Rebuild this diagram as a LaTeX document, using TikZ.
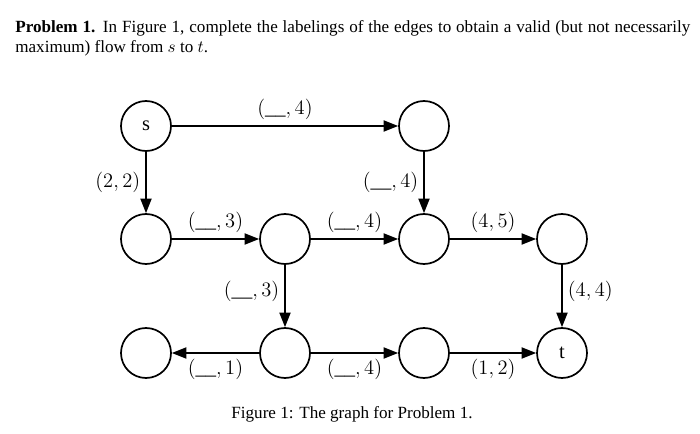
\documentclass[tikz,border=0pt]{standalone}
\usepackage{fontspec}
\setmainfont{Liberation Serif}
\usetikzlibrary{arrows.meta}
\tikzset{
	vertex/.style={circle, draw, line width=1pt, minimum size=29.25pt, inner sep=0pt, font=\large},
	flow/.style={line width=0.9pt, -{Triangle[length=8.5pt,width=6.5pt]}},
	flowlabel/.style={font=\large, inner sep=3pt}
}

\begin{document}
\begin{tikzpicture}[x=0.585pt, y=-0.585pt]
		%%%%% START %%%%%
		\useasboundingbox (0, 0) rectangle (700, 434);
		
		\node[anchor=base west, inner sep=0pt] (line1) at (15, 33) {\makebox[394.9pt][s]{\textbf{Problem 1.} In Figure 1, complete the labelings of the edges to obtain a valid (but not necessarily}};
		\node[anchor=base west, inner sep=0pt] (line2) at (15, 53) {maximum) flow from $s$ to $t$.};
		
		\node[vertex] (s) at (146, 126) {$\mathrm{s}$};
		\node[vertex] (top) at (424, 126) {};
		
		\node[vertex] (midA) at (146, 239) {};
		\node[vertex] (midB) at (285, 239) {};
		\node[vertex] (midC) at (424, 239) {};
		\node[vertex] (midD) at (562, 239) {};
		
		\node[vertex] (lowA) at (146, 353) {};
		\node[vertex] (lowB) at (285, 353) {};
		\node[vertex] (lowC) at (424, 353) {};
		\node[vertex] (t) at (562, 353) {$\mathrm{t}$};
		
		\draw[flow] (s) -- node[above, flowlabel] {$(\_\_,4)$} (top);
		\draw[flow] (s) -- node[left, flowlabel] {$(2,2)$} (midA);
		\draw[flow] (top) -- node[left, flowlabel] {$(\_\_,4)$} (midC);
		
		\draw[flow] (midA) -- node[above, flowlabel] {$(\_\_,3)$} (midB);
		\draw[flow] (midB) -- node[above, flowlabel] {$(\_\_,4)$} (midC);
		\draw[flow] (midC) -- node[above, flowlabel] {$(4,5)$} (midD);
		
		\draw[flow] (midB) -- node[pos=0.42, left, flowlabel] {$(\_\_,3)$} (lowB);
		\draw[flow] (midD) -- node[pos=0.42, right, flowlabel] {$(4,4)$} (t);
		
		\draw[flow] (lowB) -- node[below, flowlabel] {$(\_\_,1)$} (lowA);
		\draw[flow] (lowB) -- node[below, flowlabel] {$(\_\_,4)$} (lowC);
		\draw[flow] (lowC) -- node[below, flowlabel] {$(1,2)$} (t);
		
		\node[anchor=base] (caption) at (352, 418) {Figure 1: The graph for Problem 1.};
		
		%%%%% END %%%%%
	\end{tikzpicture}
\end{document}
